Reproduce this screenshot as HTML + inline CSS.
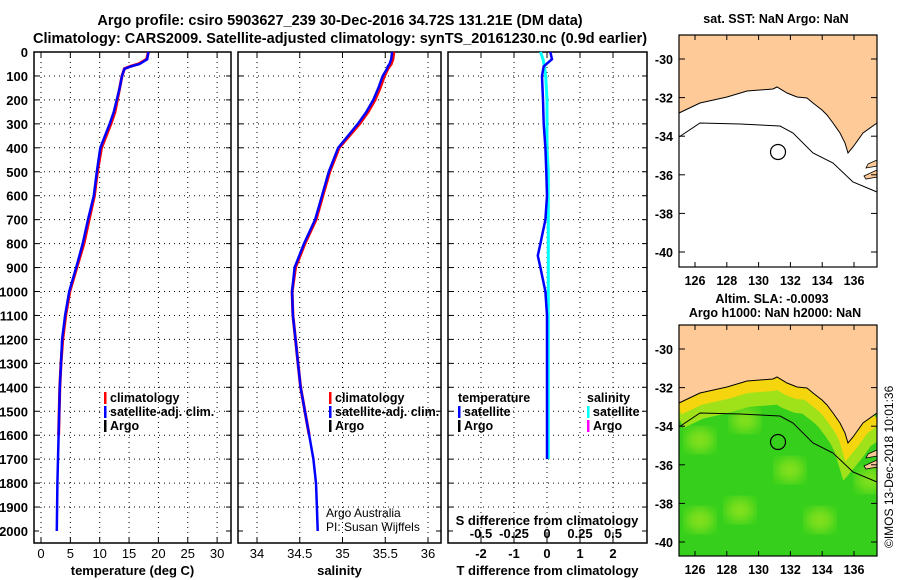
<!DOCTYPE html>
<html><head><meta charset="utf-8"><style>
body{margin:0;background:#fff}
svg{display:block;font-family:"Liberation Sans",sans-serif}
.b{font-weight:bold}
</style></head><body>
<svg id="c" width="900" height="580" xmlns="http://www.w3.org/2000/svg">
<defs>
<filter id="blur"><feGaussianBlur stdDeviation="6"/></filter>
<clipPath id="m2clip"><rect x="679" y="325" width="198" height="232"/></clipPath>
</defs>
<text class="b" x="340" y="25" font-size="14.5" text-anchor="middle">Argo profile: csiro 5903627_239 30-Dec-2016 34.72S 131.21E (DM data)</text>
<text class="b" x="340" y="43" font-size="14.5" text-anchor="middle">Climatology: CARS2009. Satellite-adjusted climatology: synTS_20161230.nc (0.9d earlier)</text>
<g id="plots"></g>
<g id="maps"></g>
<text x="893" y="548" font-size="12" transform="rotate(-90 893 548)">©IMOS 13-Dec-2018 10:01:36</text>
</svg>
<script>
// ---- data ----
const depths   = [0,30,50,60,70,100,150,200,250,300,400,500,600,700,800,900,1000,1100,1200,1300,1400,1500,1600,1700,1800,1900,2000];
const tempSat  = [18.3,18.1,16.8,15.3,14.2,13.8,13.4,12.9,12.4,11.7,10.1,9.5,9.0,8.0,7.1,6.0,4.8,4.1,3.6,3.4,3.2,3.1,3.0,2.9,2.8,2.75,2.7];
const tempClim = [18.3,18.0,16.6,15.2,14.2,13.8,13.4,13.0,12.6,11.9,10.3,9.6,9.1,8.2,7.3,6.1,4.9,4.2,3.7,3.4,3.2,3.1,3.0];
const salSat   = [35.58,35.57,35.55,35.53,35.52,35.47,35.42,35.36,35.28,35.18,34.95,34.84,34.76,34.68,34.55,34.44,34.41,34.42,34.45,34.48,34.51,34.56,34.61,34.66,34.69,34.70,34.71];
const salClim  = [35.60,35.59,35.57,35.55,35.53,35.49,35.44,35.38,35.30,35.20,34.96,34.85,34.77,34.69,34.56,34.45,34.41,34.42,34.45,34.48,34.51,34.56,34.61];
const diffDepths = [0,30,60,100,200,300,400,500,600,700,800,850,900,1000,1100,1200,1300,1400,1500,1600,1700];
const tDiffSat = [0.1,0.15,-0.1,-0.15,-0.12,-0.1,-0.05,-0.02,0.0,-0.05,-0.2,-0.28,-0.2,-0.05,0.0,0.0,0.0,0.0,0.0,0.0,0.0];
const sDiffSat = [-0.05,-0.03,-0.02,-0.01,0.0,0.0,0.0,0.01,0.01,0.01,0.01,0.01,0.01,0.01,0.01,0.01,0.01,0.01,0.01,0.01,0.01];
const depthTicks = [0,100,200,300,400,500,600,700,800,900,1000,1100,1200,1300,1400,1500,1600,1700,1800,1900,2000];
const tTicks = [0,5,10,15,20,25,30];
const sTicks = [34,34.5,35,35.5,36];
const tdTicks = [-2,-1,0,1,2];
const sdTicks = [-0.5,-0.25,0,0.25,0.5];
const latTicks = [-30,-32,-34,-36,-38,-40];
const lonTicks = [126,128,130,132,134,136];

const NS='http://www.w3.org/2000/svg';
function el(tag,attrs,parent,txt){const e=document.createElementNS(NS,tag);for(const k in attrs)e.setAttribute(k,attrs[k]);if(txt!==undefined)e.textContent=txt;parent.appendChild(e);return e;}
const plots=document.getElementById('plots');
const TOP=52,BOT=543;
const yD=d=>TOP+d*0.2395;
const panels=[
 {x0:34,x1:231,sx:v=>41+v*5.87,ticks:tTicks,lab:'temperature (deg C)',name:'temperature-panel'},
 {x0:238,x1:441,sx:v=>257+(v-34)*85.5,ticks:sTicks,lab:'salinity',name:'salinity-panel'},
 {x0:448,x1:647,sx:v=>547+v*33,ticks:tdTicks,lab:'T difference from climatology',name:'difference-panel'}
];
panels.forEach((p,i)=>{
  const g=el('g',{},plots);
  
  
  depthTicks.forEach(d=>{
    if(d>0&&d<2000){const l=el('line',{x1:p.x0,x2:p.x1,y1:yD(d),y2:yD(d),stroke:'#000','stroke-dasharray':'1 4','stroke-width':1},g);
    }
    el('line',{x1:p.x0,x2:p.x0+5,y1:yD(d),y2:yD(d),stroke:'#000'},g);
    el('line',{x1:p.x1,x2:p.x1-5,y1:yD(d),y2:yD(d),stroke:'#000'},g);
    if(i===0){const t=el('text',{x:28,y:yD(d)+5,'font-size':13,'text-anchor':'end',class:'b'},g,String(d));
      }
  });
  p.ticks.forEach(v=>{
    const x=p.sx(v);
    const l=el('line',{x1:x,x2:x,y1:TOP,y2:BOT,stroke:'#000','stroke-dasharray':'1 4'},g);
    
    el('line',{x1:x,x2:x,y1:BOT,y2:BOT-6,stroke:'#000'},g);
    el('line',{x1:x,x2:x,y1:TOP,y2:TOP+6,stroke:'#000'},g);
    const t=el('text',{x:x,y:558,'font-size':13,'text-anchor':'middle',class:i===2?'b':''},g,String(v));
    
  });
  const fr=el('rect',{x:p.x0,y:TOP,width:p.x1-p.x0,height:BOT-TOP,fill:'none',stroke:'#000','stroke-width':1.5},g);
  
  const xl=el('text',{x:(p.x0+p.x1)/2,y:575,'font-size':13,'text-anchor':'middle',class:'b'},g,p.lab);
  
});
function line(xs,ds,sx,col,w,name){
  const pts=xs.map((v,k)=>sx(v).toFixed(1)+','+yD(ds[k]).toFixed(1)).join(' ');
  const l=el('polyline',{points:pts,fill:'none',stroke:col,'stroke-width':w},plots);
  
}
line(tempClim,depths.slice(0,tempClim.length),panels[0].sx,'#f00',3,'temp-climatology-line');
line(tempSat,depths,panels[0].sx,'#00f',2.5,'temp-satellite-line');
line(salClim,depths.slice(0,salClim.length),panels[1].sx,'#f00',3,'sal-climatology-line');
line(salSat,depths,panels[1].sx,'#00f',2.5,'sal-satellite-line');
const sdx=v=>547+v*132;
line(sDiffSat,diffDepths,sdx,'#0ff',3,'sal-diff-satellite-line');
line(tDiffSat,diffDepths,panels[2].sx,'#00f',2.5,'temp-diff-satellite-line');
sdTicks.forEach(v=>{
  el('line',{x1:sdx(v),x2:sdx(v),y1:BOT-10,y2:BOT,stroke:'#000'},plots);
  const t=el('text',{x:sdx(v),y:538,'font-size':13,'text-anchor':'middle',class:'b'},plots,String(v));
  
});
const sdl=el('text',{x:547,y:525,'font-size':13,'text-anchor':'middle',class:'b'},plots,'S difference from climatology');

function legend(x,y,items,name){
  const g=el('g',{},plots);
  items.forEach((it,k)=>{
    if(it[0])el('rect',{x:x,y:y+k*14-10,width:2.5,height:12,fill:it[0]},g);
    el('text',{x:x+(it[0]?6:0),y:y+k*14,'font-size':12.5,class:'b'},g,it[1]);
  });
}
legend(104,402,[['#f00','climatology'],['#00f','satellite-adj. clim.'],['#000','Argo']],'temp-legend');
legend(329,402,[['#f00','climatology'],['#00f','satellite-adj. clim.'],['#000','Argo']],'sal-legend');
legend(458,402,[[null,'temperature'],['#00f','satellite'],['#000','Argo']],'diff-temp-legend');
legend(587,402,[[null,'salinity'],['#0ff','satellite'],['#f0f','Argo']],'diff-sal-legend');
el('text',{x:326,y:517,'font-size':12},plots,'Argo Australia');
el('text',{x:326,y:531,'font-size':12},plots,'PI: Susan Wijffels');

// ---- maps ----
const maps=document.getElementById('maps');
const coast=[[679,113],[700,103],[727,97],[747,91],[773,89],[777,87],[787,93],[797,97],[807,98],[813,103],[822,110],[827,115],[833,123],[840,133],[845,143],[848,153],[853,147],[863,133],[877,123]];
const contour=[[679,137],[700,123],[740,124],[780,126],[793,133],[813,153],[833,163],[853,182],[877,192]];
function drawMap(oy,top,bot,lat30,lat40,green){
  const dy=oy;
  const g=el('g',{},maps);
  
  
  el('rect',{x:679,y:top,width:198,height:bot-top,fill:green?'#36d01c':'#fff'},g);
  const cp=coast.map(p=>p[0]+','+(p[1]+dy)).join(' ');
  if(green){
    const gg=el('g',{'clip-path':'url(#m2clip)'},g);
    [[700,440],[745,420],[790,470],[810,390],[860,430],[740,510],[820,520],[870,480],[700,520]].forEach(c=>el('ellipse',{cx:c[0],cy:c[1],rx:14,ry:12,fill:'#a8e81c',opacity:0.7,filter:'url(#blur)'},gg));
    el('polyline',{points:coast.map(p=>p[0]+','+(p[1]+dy+15)).join(' '),fill:'none',stroke:'#9fe21a','stroke-width':22},gg);
    el('polyline',{points:coast.map(p=>p[0]+','+(p[1]+dy+6)).join(' '),fill:'none',stroke:'#f5d60e','stroke-width':12},gg);
  }
  el('polygon',{points:cp+' 877,'+top+' 679,'+top,fill:'#fecb98',stroke:'#000','stroke-width':1},g);
  el('polygon',{points:`868,${164+dy} 877,${160+dy} 877,${166+dy} 866,${168+dy}`,fill:'#fecb98',stroke:'#000','stroke-width':0.8},g);
  el('polygon',{points:`864,${176+dy} 877,${170+dy} 877,${177+dy} 866,${179+dy}`,fill:'#fecb98',stroke:'#000','stroke-width':0.8},g);
  el('polyline',{points:contour.map(p=>p[0]+','+(p[1]+dy)).join(' '),fill:'none',stroke:'#000','stroke-width':1},g);
  const ci=el('circle',{cx:778,cy:152+dy,r:7.5,fill:'none',stroke:'#000','stroke-width':1.2},g);
  
  el('rect',{x:679,y:top,width:198,height:bot-top,fill:'none',stroke:'#000','stroke-width':1.2},g);
  const ly=v=>lat30+(v+30)/(-10)*(lat40-lat30);
  latTicks.forEach(v=>{
    el('line',{x1:679,x2:685,y1:ly(v),y2:ly(v),stroke:'#000'},g);
    el('line',{x1:871,x2:877,y1:ly(v),y2:ly(v),stroke:'#000'},g);
    el('text',{x:673,y:ly(v)+5,'font-size':12.5,'text-anchor':'end',class:'b'},g,String(v));
  });
  lonTicks.forEach(v=>{
    const x=695+(v-126)*15.9;
    el('line',{x1:x,x2:x,y1:bot,y2:bot-5,stroke:'#000'},g);
    el('line',{x1:x,x2:x,y1:top,y2:top+5,stroke:'#000'},g);
    el('text',{x:x,y:bot+18,'font-size':12.5,'text-anchor':'middle',class:'b'},g,String(v));
  });
}
drawMap(0,35,267,59,252,false);
drawMap(290,325,556,349,542,true);
const mt=[['sat. SST: NaN Argo: NaN',776,23,'sst-map-title'],['Altim. SLA: -0.0093',772,303,'sla-map-title'],['Argo h1000: NaN h2000: NaN',775,317,'sla-map-subtitle']];
mt.forEach(m=>{const t=el('text',{x:m[1],y:m[2],'font-size':12.5,'text-anchor':'middle',class:'b'},maps,m[0]);
 });
</script>
</body></html>
